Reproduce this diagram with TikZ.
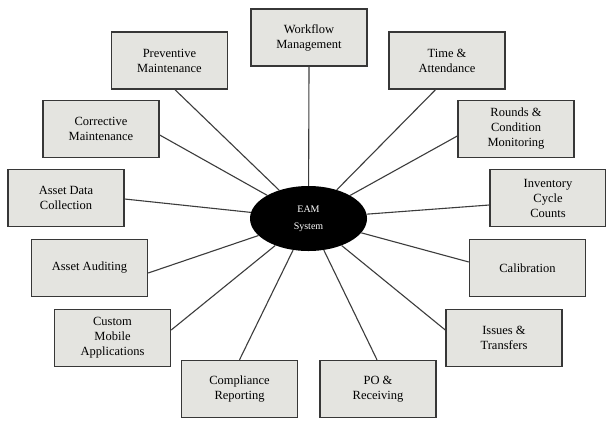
\documentclass[tikz,border=0pt]{standalone}
\usepackage{fontspec}
\setmainfont{Liberation Serif}
\usetikzlibrary{shapes.geometric}
\definecolor{boxfill}{RGB}{228,228,224}
\definecolor{boxline}{RGB}{55,55,55}
\definecolor{linkcol}{RGB}{60,60,60}
\begin{document}
\begin{tikzpicture}[x=1bp,y=-1bp,
  box/.style={draw=boxline, line width=1.4bp, fill=boxfill, minimum width=116bp, minimum height=57bp,
    inner sep=0pt, align=center, font=\fontsize{12.5bp}{15bp}\selectfont},
  link/.style={draw=linkcol, line width=1.1bp},
  hub/.style={ellipse, fill=black, minimum width=117bp, minimum height=65bp, inner sep=0pt,
    text=white, align=center, font=\fontsize{10bp}{17bp}\selectfont}]
\useasboundingbox (0,0) rectangle (606,421);
\fill[white] (0,0) rectangle (606,421);
\node[hub] (eam) at (308.5,218.5) {EAM\\System};
\node[box] (wf)   at (309,37.5)   {Workflow\\Management};
\node[box] (prev) at (169.5,60.5) {Preventive\\Maintenance};
\node[box] (time) at (447,60.5)   {Time \&\\Attendance};
\node[box] (corr) at (101,129)    {Corrective\\Maintenance};
\node[box] (rnd)  at (516,129)    {Rounds \&\\Condition\\Monitoring};
\node[box] (adc)  at (66,198)     {Asset Data\\Collection};
\node[box] (inv)  at (548,198)    {Inventory\\Cycle\\Counts};
\node[box] (aud)  at (89.5,268)   {Asset Auditing};
\node[box] (cal)  at (527.5,268)  {Calibration};
\node[box] (cma)  at (112.5,338)  {Custom\\Mobile\\Applications};
\node[box] (iss)  at (504,338)    {Issues \&\\Transfers};
\node[box] (comp) at (239.5,389)  {Compliance\\Reporting};
\node[box] (po)   at (378,389)    {PO \&\\Receiving};
\begin{scope}[on background layer/.style={}]
\draw[link] (wf.south) -- (eam);
\draw[link] ([xshift=5.5bp]prev.south) -- (eam);
\draw[link] ([xshift=-11.5bp]time.south) -- (eam);
\draw[link] ([yshift=-6bp]corr.east) -- (eam);
\draw[link] ([yshift=-7bp]rnd.west) -- (eam);
\draw[link] ([yshift=-1bp]adc.east) -- (eam);
\draw[link] ([yshift=-7bp]inv.west) -- (eam);
\draw[link] ([yshift=-5bp]aud.east) -- (eam);
\draw[link] ([yshift=6bp]cal.west) -- (eam);
\draw[link] ([yshift=8bp]cma.east) -- (eam);
\draw[link] ([yshift=8bp]iss.west) -- (eam);
\draw[link] ([xshift=0bp]comp.north) -- (eam);
\draw[link] ([xshift=-1bp]po.north) -- (eam);
\end{scope}
\end{tikzpicture}
\end{document}
